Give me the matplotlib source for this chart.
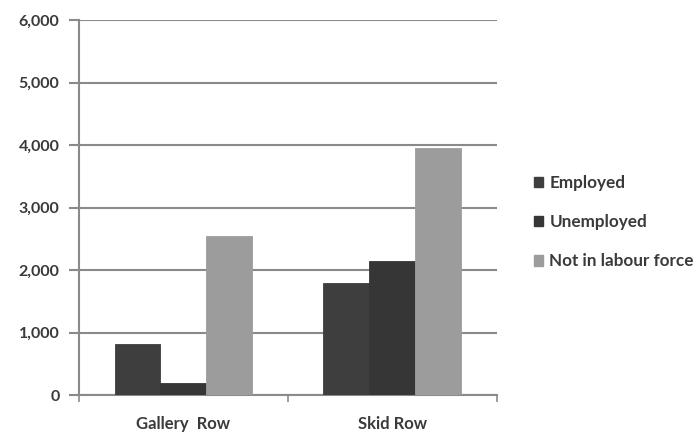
import matplotlib
matplotlib.use("Agg")
import matplotlib.pyplot as plt
import numpy as np
from matplotlib.ticker import FuncFormatter
from matplotlib.patches import Patch

categories = ["Gallery  Row", "Skid Row"]
series_names = ["Employed", "Unemployed", "Not in labour force"]
employed = [810, 1800]
unemployed = [190, 2150]
not_in_labour_force = [2550, 3950]
y_ticks = [0, 1000, 2000, 3000, 4000, 5000, 6000]

colors = ["#3e3e3e", "#363636", "#9c9c9c"]
text_color = "#3a3a3a"
grid_color = "#8a8a8a"

plt.rcParams["font.family"] = ["Lato", "DejaVu Sans"]
plt.rcParams["font.weight"] = "bold"

fig = plt.figure(figsize=(6.96, 4.36), dpi=100)
ax = fig.add_axes([0.1135, 0.094, 0.6005, 0.86])

x = np.arange(len(categories))
width = 0.22
values = [employed, unemployed, not_in_labour_force]
for i, (vals, c) in enumerate(zip(values, colors)):
    ax.bar(x + (i - 1) * width, vals, width=width, color=c,
           edgecolor=c, linewidth=0.6, zorder=3)

ax.set_xlim(-0.5, 1.5)
ax.set_ylim(0, 6000)
ax.set_yticks(y_ticks)
ax.yaxis.set_major_formatter(FuncFormatter(lambda v, p: f"{int(v):,}"))
ax.yaxis.grid(True, color=grid_color, linewidth=1.5, zorder=0)
ax.set_axisbelow(True)

ax.set_xticks(x)
ax.set_xticklabels(categories)
ax.set_xticks([-0.5, 0.5, 1.5], minor=True)
ax.tick_params(axis="x", which="major", length=0, pad=15,
               labelsize=12, labelcolor=text_color)
ax.tick_params(axis="x", which="minor", length=5, width=1.2, color=grid_color)
ax.tick_params(axis="y", length=7, width=1.5, color=grid_color, pad=7,
               labelsize=11.5, labelcolor=text_color)

for s in ["top", "right"]:
    ax.spines[s].set_visible(False)
ax.spines["left"].set_color(grid_color)
ax.spines["left"].set_linewidth(1.5)
ax.spines["bottom"].set_color(grid_color)
ax.spines["bottom"].set_linewidth(1.5)

handles = [Patch(facecolor=c, edgecolor=c) for c in colors]
fig.legend(handles, series_names, loc="center left",
           bbox_to_anchor=(0.745, 0.49), frameon=False,
           fontsize=12.3, labelcolor=text_color, handlelength=0.55,
           handleheight=0.55, handletextpad=0.35, labelspacing=1.35)

fig.savefig("out.png", dpi=100, facecolor="white")
